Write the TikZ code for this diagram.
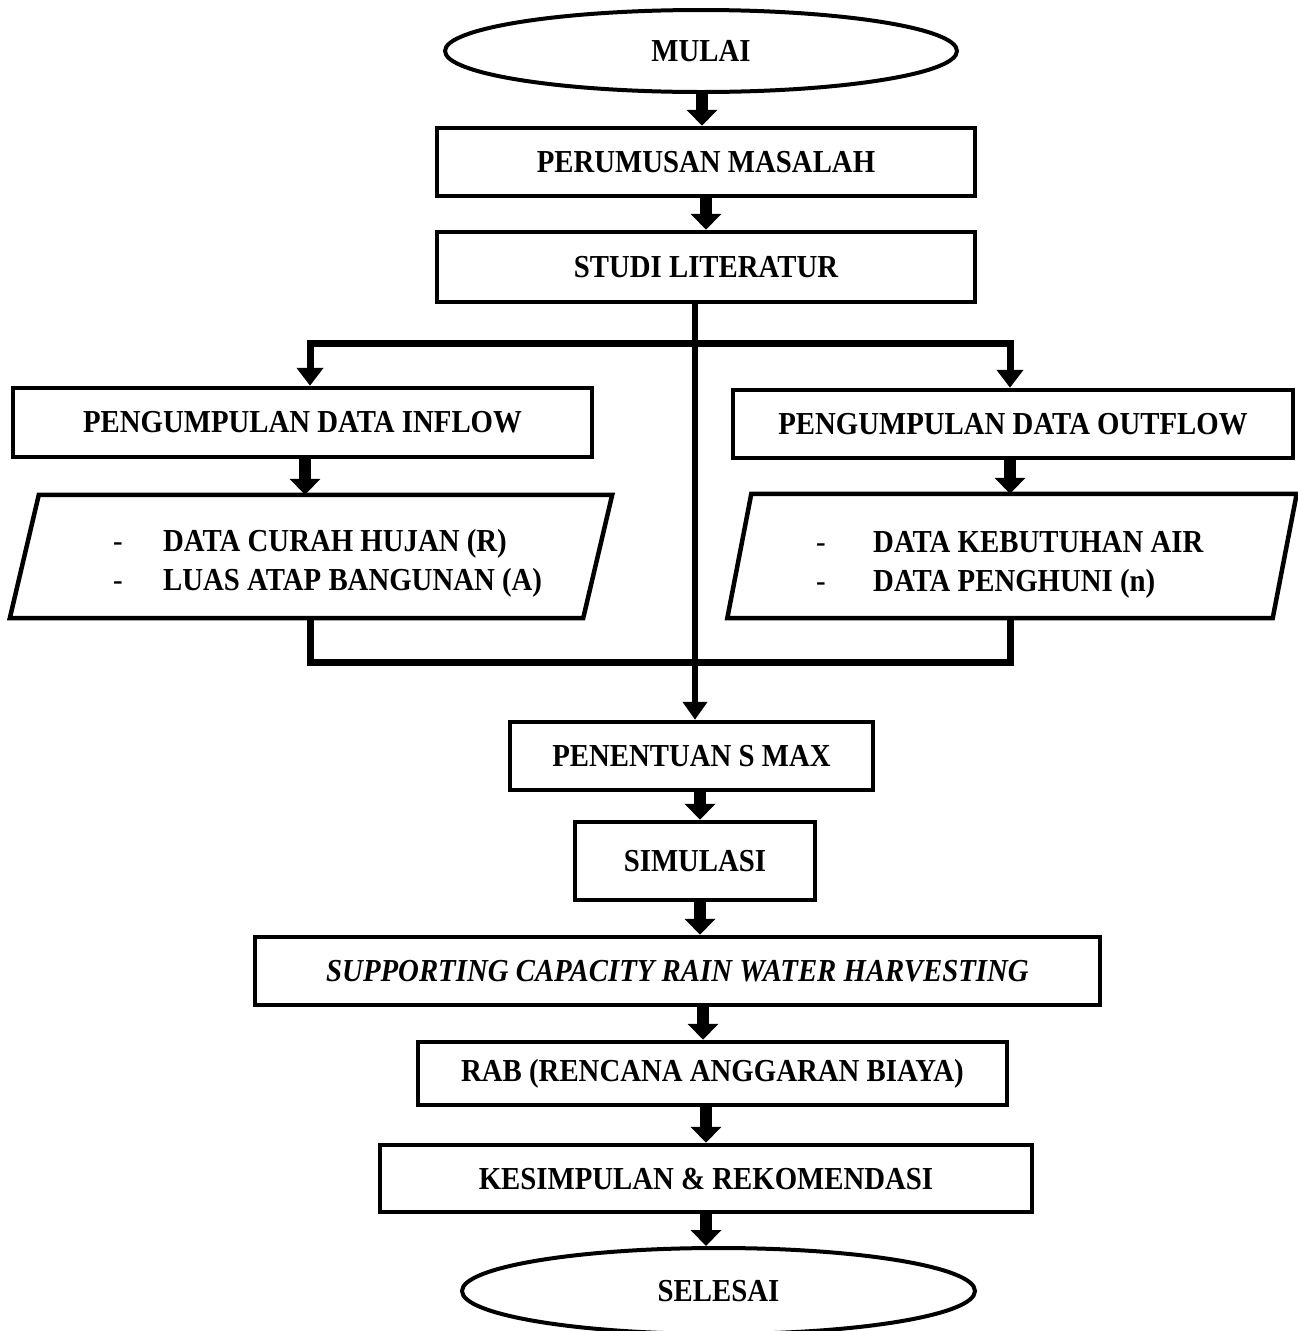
\documentclass[tikz,border=0pt]{standalone}
\usepackage{fontspec}
\setmainfont{Liberation Serif}[FakeStretch=0.9]
\usetikzlibrary{arrows.meta,shapes.geometric,calc}
\begin{document}
\begin{tikzpicture}[x=1pt,y=-1pt,
  txt/.style={font=\bfseries\fontsize{32}{39}\selectfont},
  box/.style={txt,draw,line width=4.5pt,inner sep=0pt},
  oval/.style={txt,draw,ellipse,line width=4pt,inner sep=0pt},
  frame/.style={draw=none,inner sep=0pt},
  para/.style={line width=4.5pt,line join=miter},
  blk/.style={line width=12pt,-{Triangle[width=30pt,length=16pt]}},
  thinarr/.style={line width=7pt,{Triangle[width=26pt,length=18pt]}-{Triangle[width=26pt,length=18pt]}},
  onearr/.style={line width=6pt,-{Triangle[width=24pt,length=18pt]}},
  joinline/.style={line width=7pt,line join=miter}]
\useasboundingbox (0,0) rectangle (1298,1331);

\node[oval,minimum width=512pt,minimum height=82pt] (mulai) at (701,51) {MULAI};
\node[box,minimum width=538pt,minimum height=68pt] (perumusan) at (706,162) {PERUMUSAN MASALAH};
\node[box,minimum width=538pt,minimum height=70pt] (studi) at (706,267) {STUDI LITERATUR};
\node[box,minimum width=579pt,minimum height=69pt] (inflow) at (302.5,422.5) {PENGUMPULAN DATA INFLOW};
\node[box,minimum width=560pt,minimum height=68pt] (outflow) at (1013,424) {PENGUMPULAN DATA OUTFLOW};

\node[frame,minimum width=602pt,minimum height=123pt] (inp) at (311,556.5) {};
\node[frame,minimum width=569pt,minimum height=124pt] (outp) at (1012,556) {};
\draw[para] (inp.south west) -- ($(inp.north west)+(29,0)$) -- (inp.north east) -- ($(inp.south east)-(29,0)$) -- cycle;
\draw[para] (outp.south west) -- ($(outp.north west)+(24,0)$) -- (outp.north east) -- ($(outp.south east)-(24,0)$) -- cycle;
\node[txt,anchor=west,inner sep=0pt] (inptxt) at (113,563) {\begin{tabular}{@{}l@{}l@{}}\makebox[50pt][l]{\mdseries -} & DATA CURAH HUJAN (R)\\ \makebox[50pt][l]{\mdseries -} & LUAS ATAP BANGUNAN (A)\end{tabular}};
\node[txt,anchor=west,inner sep=0pt] (outptxt) at (816,564) {\begin{tabular}{@{}l@{}l@{}}\makebox[57pt][l]{\mdseries -} & DATA KEBUTUHAN AIR\\ \makebox[57pt][l]{\mdseries -} & DATA PENGHUNI (n)\end{tabular}};

\node[box,minimum width=363pt,minimum height=68pt] (penentuan) at (691.5,756) {PENENTUAN S MAX};
\node[box,minimum width=240pt,minimum height=78pt] (simulasi) at (695,861) {SIMULASI};
\node[box,minimum width=845pt,minimum height=68pt] (supporting) at (677.5,971) {\itshape SUPPORTING CAPACITY RAIN WATER HARVESTING};
\node[box,minimum width=589pt,minimum height=63pt] (rab) at (712.5,1073.5) {RAB (RENCANA ANGGARAN BIAYA)};
\node[box,minimum width=652pt,minimum height=67pt] (kesimpulan) at (706,1178.5) {KESIMPULAN \& REKOMENDASI};
\node[oval,minimum width=513pt,minimum height=86pt] (selesai) at (718.5,1291) {SELESAI};

% block arrows
\draw[blk] (mulai.south -| 702,0) -- (perumusan.north -| 702,0);
\draw[blk] (perumusan.south -| 706,0) -- (studi.north -| 706,0);
\draw[blk] (inflow.south -| 305,0) -- (inp.north -| 305,0);
\draw[blk] (outflow.south -| 1010,0) -- (outp.north -| 1010,0);
\draw[blk] (penentuan.south -| 700,0) -- (simulasi.north -| 700,0);
\draw[blk] (simulasi.south -| 700,0) -- (supporting.north -| 700,0);
\draw[blk] (supporting.south -| 703,0) -- (rab.north -| 703,0);
\draw[blk] (rab.south -| 706,0) -- (kesimpulan.north -| 706,0);
\draw[blk] (kesimpulan.south -| 706,0) -- (selesai.north -| 706,0);

% branch from studi literatur
\coordinate (jl) at (310,343);
\coordinate (jr) at (1010,343);
\draw[thinarr,line join=miter] (inflow.north -| jl) -- (jl) -- (jr) -- (outflow.north -| jr);
\draw[onearr] (studi.south -| 695,0) -- (penentuan.north -| 695,0);

% merge line
\coordinate (ml) at (310,662);
\coordinate (mr) at (1010,662);
\draw[joinline] (inp.south -| ml) -- (ml) -- (mr) -- (outp.south -| mr);
\end{tikzpicture}
\end{document}
